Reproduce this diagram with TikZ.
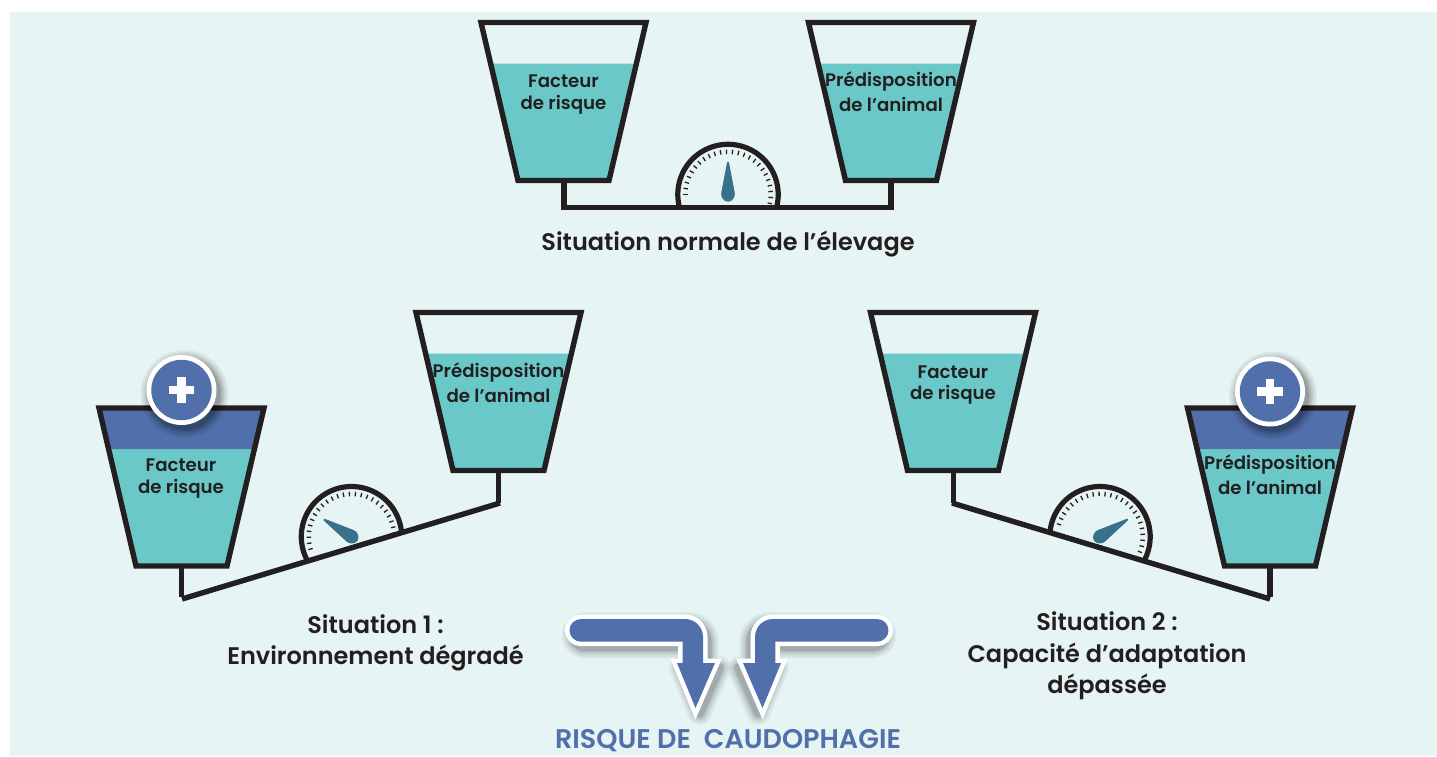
\documentclass[tikz,border=0pt]{standalone}
\usepackage{fontspec}
\setmainfont{Poppins}[BoldFont={Poppins SemiBold}]
\definecolor{bg}{HTML}{E7F4F4}
\definecolor{teal}{HTML}{6AC9C8}
\definecolor{bleu}{HTML}{5170AB}
\definecolor{ink}{HTML}{231F20}
\definecolor{needle}{HTML}{38718C}
\tikzset{
  outline/.style={draw=ink,line width=5.4pt,line join=miter},
  cuplabel/.style={font=\fontsize{18.2}{20}\selectfont\bfseries,text=ink,inner sep=0pt,align=center},
  caption/.style={font=\fontsize{24}{26}\selectfont\bfseries,text=ink,inner sep=0pt,align=center},
  risk/.style={font=\fontsize{27}{29}\selectfont\bfseries,text=bleu,inner sep=0pt},
}
% cup: centre x, top y, blue band?
\newcommand{\CupShape}[3]{%
  \fill[teal] ({#1-73},{#2+41}) -- ({#1+73},{#2+41}) -- ({#1+45.5},{#2+158}) -- ({#1-45.5},{#2+158}) -- cycle;
  \ifnum#3=1
    \fill[bleu] ({#1-82.5},#2) -- ({#1+82.5},#2) -- ({#1+73},{#2+41}) -- ({#1-73},{#2+41}) -- cycle;
  \fi
  \draw[outline] ({#1-82.5},#2) -- ({#1+82.5},#2) -- ({#1+45.5},{#2+158}) -- ({#1-45.5},{#2+158}) -- cycle;
}
% gauge: centre x, centre y, rotation, distance to beam, needle rotation, half-angle below horizontal
\newcommand{\GaugeShape}[6]{%
  \begin{scope}[shift={(#1,#2)},rotate=#3]
    \begin{scope}
      \clip (-60,-60) rectangle (60,#4);
      \foreach \a in {-180,-172,...,20} {\draw[ink,line width=1.3pt] (\a:40.5) -- (\a:45);}
      \draw[ink,line width=5.2pt] plot[domain={180-#6}:{360+#6},samples=90] (\x:50.2);
    \end{scope}
  \end{scope}
  \begin{scope}[shift={(#1,#2)},rotate=#5]
    \fill[needle] (-6.8,-1.5) -- (-1,-32) -- (0,-33) -- (1,-32) -- (6.8,-1.5)
      .. controls (7.6,2.5) and (4,7.2) .. (0,7.2) .. controls (-4,7.2) and (-7.6,2.5) .. (-6.8,-1.5) -- cycle;
  \end{scope}
}
\newcommand{\PlusBadge}[2]{%
  \foreach \r/\o in {44/.05,42/.06,40/.08,38/.1,36/.12} {\fill[black,opacity=\o] ({#1+3},{#2+4}) circle[radius=\r];}
  \fill[white] (#1,#2) circle[radius=35];
  \fill[bleu] (#1,#2) circle[radius=30.2];
  \fill[white] ({#1-12.8},{#2-4.3}) rectangle ({#1+12.8},{#2+4.3});
  \fill[white] ({#1-4.3},{#2-12.8}) rectangle ({#1+4.3},{#2+12.8});
}
\def\ArrowPath{(581,619) -- (685,619) .. controls (695,619) and (703,627) .. (703,637) -- (703,663) -- (715,663) -- (695.5,708) -- (677,663) -- (682.7,663) -- (682.7,641.7) -- (581,641.7) .. controls (574.7,641.7) and (569.5,636.6) .. (569.5,630.3) .. controls (569.5,624) and (574.7,619) .. (581,619) -- cycle}
\newcommand{\ArrowShape}{%
  \foreach \w/\o in {24/.04,20/.05,16/.06,12/.08,9/.1} {\draw[black,opacity=\o,line width=\w pt,line join=round,shift={(4,5)}] \ArrowPath;}
  \draw[white,line width=9pt,line join=miter,miter limit=6] \ArrowPath;
  \fill[bleu] \ArrowPath;
}
\begin{document}
\begin{tikzpicture}[x=1pt,y=-1pt]
\useasboundingbox (0,0) rectangle (1437,756);
\fill[white] (0,0) rectangle (1437,756);
\fill[bg] (10,12) rectangle (1437,756);

% top balance
\CupShape{563.5}{22.5}{0}
\CupShape{891}{22.5}{0}
\draw[outline] (564,181) -- (564,207.5) -- (891,207.5) -- (891,181);
\GaugeShape{728}{194.5}{0}{13}{0}{15}
\node[cuplabel] (f1) at (563.5,81) {Facteur};
\node[cuplabel] (f2) at (563.5,104.5) {de risque};
\node[cuplabel] (p1) at (891,81) {Prédisposition};
\node[cuplabel] (p2) at (891,104.5) {de l’animal};
\node[caption] (c0) at (728,244) {Situation normale de l’élevage};

% left balance
\CupShape{181.5}{408}{1}
\CupShape{498.5}{312.5}{0}
\draw[ink,line width=5.4pt] (181.5,566) -- (181.5,597);
\draw[ink,line width=5.4pt] (498.5,470) -- (498.5,503);
\draw[ink,line width=5.4pt] (182,599) -- (500,503);
\GaugeShape{351.5}{536.7}{16.8}{11}{58}{13}
\PlusBadge{181.5}{390}
\node[cuplabel] (f3) at (181,465.5) {Facteur};
\node[cuplabel] (f4) at (181,488.5) {de risque};
\node[cuplabel] (p3) at (498.5,372) {Prédisposition};
\node[cuplabel] (p4) at (498.5,395) {de l’animal};
\node[caption] (c1) at (375.5,643) {Situation 1 :\\[5.5pt]Environnement dégradé};

% right balance
\CupShape{953}{312.5}{0}
\CupShape{1270}{408}{1}
\draw[ink,line width=5.4pt] (953.3,470) -- (953.3,503);
\draw[ink,line width=5.4pt] (1270,566) -- (1270,597);
\draw[ink,line width=5.4pt] (952,503) -- (1270,599);
\GaugeShape{1100}{536.7}{-16.8}{11}{-58}{13}
\PlusBadge{1270}{391.5}
\node[cuplabel] (f5) at (953,372) {Facteur};
\node[cuplabel] (f6) at (953,395) {de risque};
\node[cuplabel] (p5) at (1270,464) {Prédisposition};
\node[cuplabel] (p6) at (1270,487) {de l’animal};
\node[caption] (c2) at (1107,656) {Situation 2 :\\[5.5pt]Capacité d’adaptation\\[5.5pt]dépassée};

% arrows
\ArrowShape
\begin{scope}[shift={(1458,0)},xscale=-1]
\ArrowShape
\end{scope}
\node[risk] (r) at (728,740.5) {RISQUE DE\ \ CAUDOPHAGIE};
\end{tikzpicture}
\end{document}
